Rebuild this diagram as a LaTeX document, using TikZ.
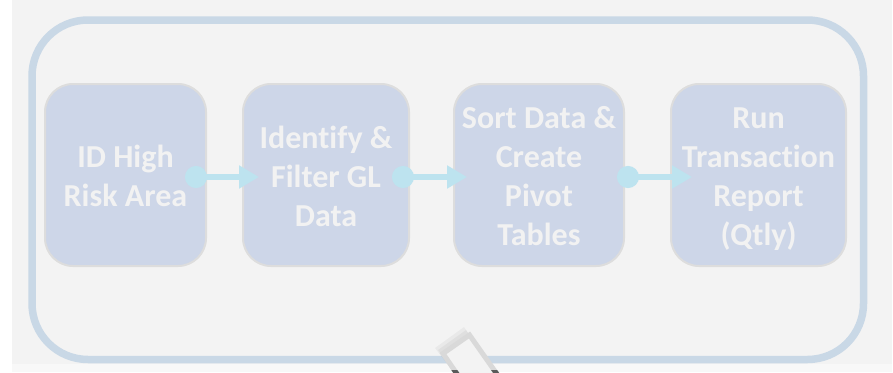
\documentclass[tikz,border=0pt]{standalone}
\usepackage{fontspec}
\setmainfont{Carlito}[Ligatures={NoCommon,NoRare}]
\usetikzlibrary{arrows.meta}
\definecolor{bgGray}{HTML}{F3F3F3}
\definecolor{frameBlue}{HTML}{C9D8E6}
\definecolor{boxFill}{HTML}{CDD6E8}
\definecolor{boxLine}{HTML}{DDDDDD}
\definecolor{boxText}{HTML}{F2F2F2}
\definecolor{connCol}{HTML}{BDE3EF}
\definecolor{tabLine}{HTML}{D9D9D9}
\definecolor{tabDark}{HTML}{5A5A5A}
\tikzset{
  stepbox/.style={draw=boxLine, fill=boxFill, line width=2pt, rounded corners=28pt,
    minimum height=182pt, outer sep=0pt, inner sep=0pt},
  steptext/.style={align=center, inner sep=0pt,
    text=boxText, font=\bfseries\fontsize{32}{39}\selectfont},
  conn/.style={draw=connCol, line width=6.5pt,
    {Circle[length=22pt,width=22pt]}-{Triangle[length=20pt,width=22pt]}},
  outerframe/.style={draw=frameBlue, line width=7.5pt, rounded corners=56pt}
}
\begin{document}
\begin{tikzpicture}[x=1pt,y=-1pt]
\useasboundingbox (0,0) rectangle (893,372);
\clip (0,0) rectangle (893,372);
\fill[white] (0,0) rectangle (893,372);
\fill[bgGray] (12,0) rectangle (892,364);
\fill[bgGray!60!white] (12,364) rectangle (892,372);
\draw[outerframe] (32,20) rectangle (863.5,359.5);

\node[stepbox, minimum width=161pt] (b1) at (125.5,175) {};
\node[stepbox, minimum width=166pt] (b2) at (326,175) {};
\node[stepbox, minimum width=170pt] (b3) at (539,175) {};
\node[stepbox, minimum width=175pt] (b4) at (758.5,175) {};
\node[steptext] (t1) at ([yshift=-1pt]b1.center) {ID High\\Risk Area};
\node[steptext] (t2) at ([yshift=-1pt]b2.center) {Identify \&\\Filter GL\\Data};
\node[steptext] (t3) at ([yshift=-1pt]b3.center) {Sort Data \&\\Create\\Pivot\\Tables};
\node[steptext] (t4) at ([yshift=-4pt]b4.center) {Run\\Transaction\\Report\\(Qtly)};

\draw[conn] ([xshift=-21pt,yshift=-2pt]b1.east) -- ([xshift=16pt,yshift=-2pt]b2.west);
\draw[conn] ([xshift=-17pt,yshift=-2pt]b2.east) -- ([xshift=13pt,yshift=-2pt]b3.west);
\draw[conn] ([xshift=-7pt,yshift=-2pt]b3.east) -- ([xshift=21pt,yshift=-2pt]b4.west);

% partly visible tab at the bottom
\coordinate (tl) at (441,352);
\coordinate (tt) at (468,333);
\coordinate (tr) at (502.5,382);
\coordinate (tb) at (475.5,401);
\fill[black, opacity=0.04] ([shift={(-6,-4)}]tl) -- ([shift={(-4,-6)}]tt) -- (tr) -- (tb) -- cycle;
\fill[black, opacity=0.04] ([shift={(-3,-2)}]tl) -- ([shift={(-2,-3)}]tt) -- (tr) -- (tb) -- cycle;
\filldraw[fill=bgGray, draw=tabLine, line width=5pt, line join=miter]
  ([shift={(2,1.5)}]tl) -- ([shift={(1.5,2)}]tt) -- (tr) -- (tb) -- cycle;
\begin{scope}
\clip (0,370) rectangle (893,372);
\draw[draw=tabDark, line width=5pt, line join=miter]
  ([shift={(2,1.5)}]tl) -- ([shift={(1.5,2)}]tt) -- (tr) -- (tb) -- cycle;
\end{scope}
\end{tikzpicture}
\end{document}
